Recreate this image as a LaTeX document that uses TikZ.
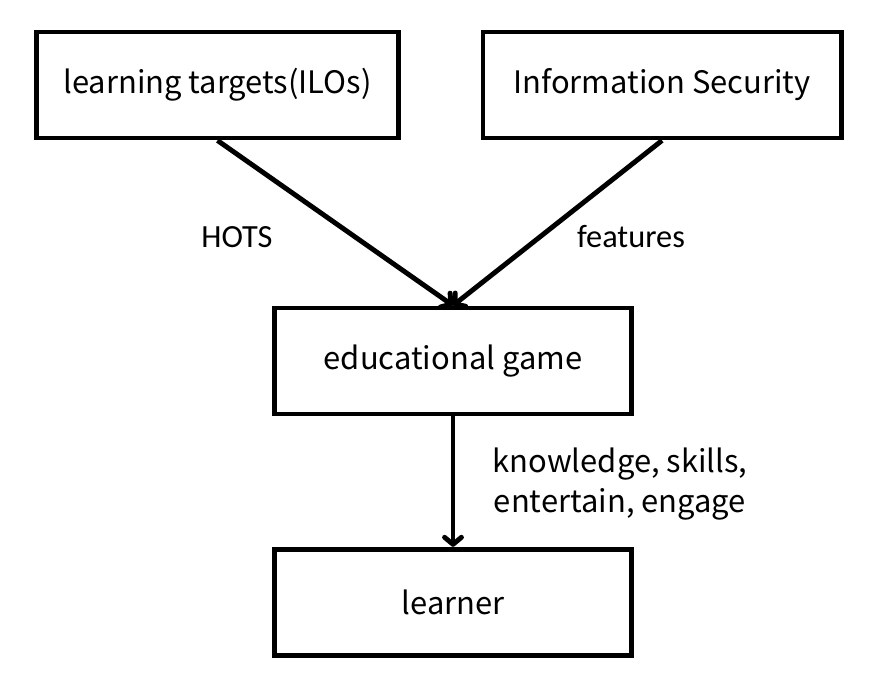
\documentclass[tikz,border=0pt]{standalone}
\usepackage{fontspec}
\setmainfont{Noto Sans CJK SC}
\newfontfamily\labelfont{Carlito}
\usetikzlibrary{arrows.meta, positioning}

\begin{document}
\begin{tikzpicture}[
  x=0.025cm, y=-0.025cm,
  line width=3.5pt,
  >={Straight Barb[length=5pt, width=12pt, line cap=round, line join=round]},
  box/.style    = {draw, rectangle, minimum height=2.65cm, minimum width=8.9cm,
                   font=\fontsize{22}{26}\selectfont},
  edgelbl/.style = {font=\labelfont\fontsize{23}{28}\selectfont, align=center},
]
  \useasboundingbox (0,0) rectangle (880,680);

%--- top row ---
  \node[box, minimum width=9.05cm]  (ilos)  at (217.5,85) {learning targets(ILOs)};
  \node[box, minimum width=8.95cm]  (infsec) at (662,85)  {Information Security};

%--- middle and bottom ---
  \node[box]                        (game)    at (453,361) {educational game};
  \node[box, below=6.03cm of game.center, anchor=center] (learner) {learner};

  % labels
  \node[edgelbl] (lhots) at (237,237) {HOTS};
  \node[edgelbl] (lfeat) at (631,237) {features};
  \node[edgelbl, font=\fontsize{22}{28.5}\selectfont] (lgain) at (620,484)
    {knowledge, skills,\\entertain, engage};

  \draw[->] (ilos.south)   -- (game.north);
  \draw[->] (infsec.south) -- (game.north);
  \draw[->] (game)         -- (learner);
\end{tikzpicture}
\end{document}
